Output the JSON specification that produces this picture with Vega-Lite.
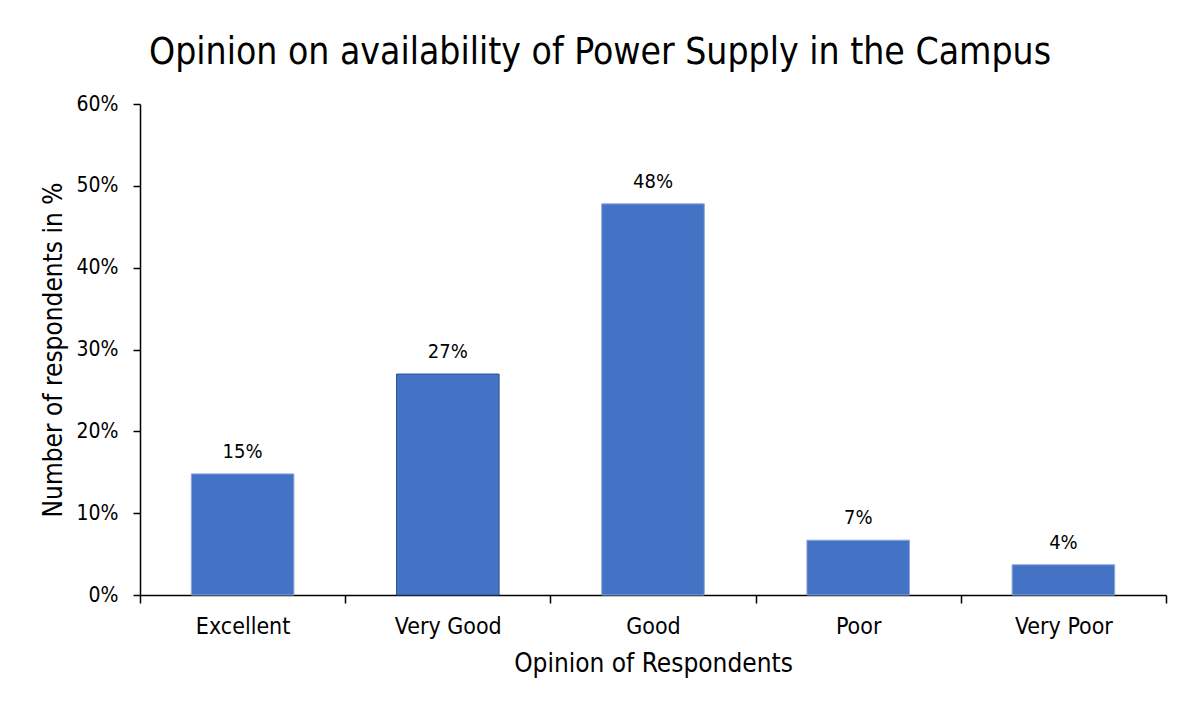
{
  "$schema": "https://vega.github.io/schema/vega-lite/v6.json",
  "width": 1026,
  "height": 491,
  "autosize": {"type": "none"},
  "padding": {"left": 140, "top": 104, "right": 29, "bottom": 114},
  "background": "white",
  "title": {
    "text": "Opinion on availability of Power Supply in the Campus",
    "font": "DejaVu Sans Condensed",
    "fontSize": 37,
    "fontWeight": "normal",
    "color": "#000000",
    "anchor": "middle",
    "dx": -53,
    "offset": 21
  },
  "data": {
    "values": [
      {"opinion": "Excellent", "share": 0.148},
      {"opinion": "Very Good", "share": 0.27},
      {"opinion": "Good", "share": 0.478},
      {"opinion": "Poor", "share": 0.067},
      {"opinion": "Very Poor", "share": 0.037}
    ]
  },
  "encoding": {
    "x": {
      "field": "opinion",
      "type": "nominal",
      "sort": null,
      "scale": {"paddingInner": 0, "paddingOuter": 0},
      "axis": {
        "title": "Opinion of Respondents",
        "labelAngle": 0,
        "labelFontSize": 23,
        "tickBand": "extent",
        "tickSize": 8,
        "labelPadding": 12,
        "titlePadding": 12
      }
    },
    "y": {
      "field": "share",
      "type": "quantitative",
      "scale": {"domain": [0, 0.6]},
      "axis": {
        "title": "Number of respondents in %",
        "format": ".0%",
        "values": [0, 0.1, 0.2, 0.3, 0.4, 0.5, 0.6],
        "grid": false,
        "tickSize": 7,
        "labelPadding": 15,
        "labelFontSize": 21,
        "titlePadding": 10
      }
    }
  },
  "layer": [
    {
      "mark": {"type": "bar", "color": "#4472C4", "width": {"band": 0.5}},
      "encoding": {
        "stroke": {
          "condition": {"test": "datum.opinion === 'Very Good'", "value": "#2F528F"},
          "value": "#8FAADC"
        },
        "strokeWidth": {"value": 1}
      }
    },
    {
      "mark": {
        "type": "text",
        "baseline": "bottom",
        "dy": -12,
        "font": "DejaVu Sans Condensed",
        "fontSize": 20,
        "color": "#000000"
      },
      "encoding": {
        "text": {"field": "share", "type": "quantitative", "format": ".0%"}
      }
    }
  ],
  "config": {
    "view": {"stroke": null},
    "axis": {
      "labelFont": "DejaVu Sans Condensed",
      "titleFont": "DejaVu Sans Condensed",
      "labelFontSize": 20,
      "titleFontSize": 26,
      "titleFontWeight": "normal",
      "labelColor": "#000000",
      "titleColor": "#000000",
      "domainColor": "#000000",
      "tickColor": "#000000",
      "domainWidth": 1.5,
      "tickWidth": 1.5
    }
  }
}
